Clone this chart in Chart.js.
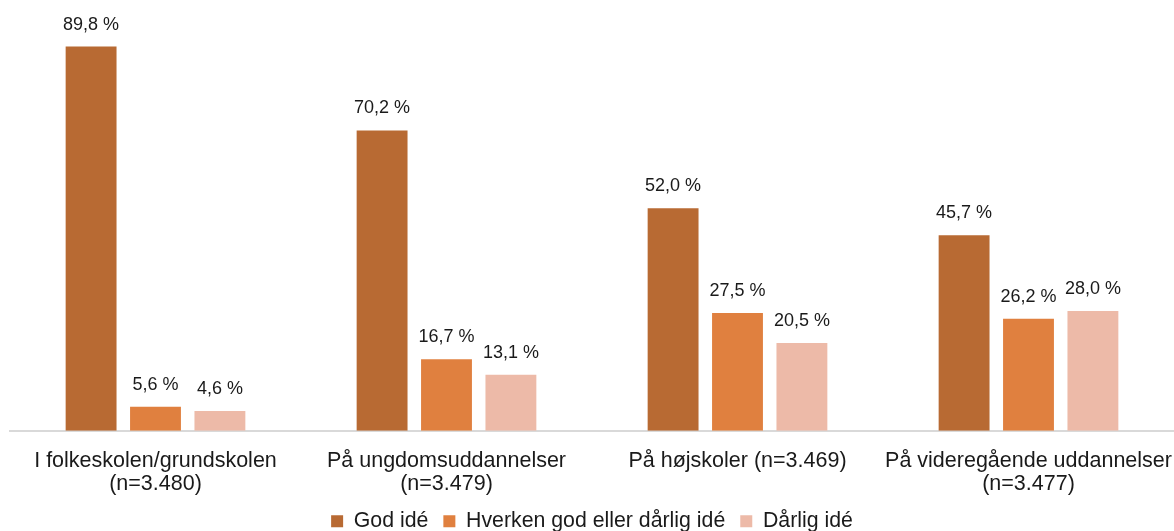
<!DOCTYPE html>
<html>
<head>
<meta charset="utf-8">
<script src="https://cdn.jsdelivr.net/npm/chart.js@4"></script>
<style>
  html, body { margin: 0; padding: 0; background: #fff; }
  #wrap { width: 1174px; height: 531px; }
</style>
</head>
<body>
<div id="wrap"><canvas id="chart"></canvas></div>
<script>
// Kategorier og værdier (procent)
const kategorier = [
    ['I folkeskolen/grundskolen', '(n=3.480)'],
    ['På ungdomsuddannelser', '(n=3.479)'],
    'På højskoler (n=3.469)',
    ['På videregående uddannelser', '(n=3.477)']
];
const serieNavne = ['God idé', 'Hverken god eller dårlig idé', 'Dårlig idé'];
const godIde = [89.8, 70.2, 52.0, 45.7];
const hverken = [5.6, 16.7, 27.5, 26.2];
const daarligIde = [4.6, 13.1, 20.5, 28.0];
const farver = ['#B86A33', '#E0803F', '#EDBAA8'];

const skrift = '"Liberation Sans", Arial, sans-serif';

// Skriver værdien over hver søjle
const vaerdiLabels = {
    id: 'vaerdiLabels',
    afterDatasetsDraw(chart) {
        const c = chart.ctx;
        c.save();
        c.font = '18px ' + skrift;
        c.fillStyle = '#1a1a1a';
        c.textAlign = 'center';
        c.textBaseline = 'middle';
        chart.data.datasets.forEach((ds, i) => {
            chart.getDatasetMeta(i).data.forEach((bar, j) => {
                const txt = ds.data[j].toFixed(1).replace('.', ',') + ' %';
                c.fillText(txt, bar.x, bar.y - 22);
            });
        });
        c.restore();
    }
};

new Chart(document.getElementById('chart'), {
    type: 'bar',
    data: {
        labels: kategorier,
        datasets: [
            { label: serieNavne[0], data: godIde, backgroundColor: farver[0] },
            { label: serieNavne[1], data: hverken, backgroundColor: farver[1] },
            { label: serieNavne[2], data: daarligIde, backgroundColor: farver[2] }
        ]
    },
    options: {
        responsive: true,
        maintainAspectRatio: false,
        animation: false,
        layout: { padding: { left: 10, right: 0, top: 3, bottom: -11 } },
        datasets: {
            bar: { categoryPercentage: 0.664, barPercentage: 0.79 }
        },
        scales: {
            x: {
                // tickLength bruges som afstand fra aksen til teksten
                grid: { display: false, drawTicks: true, tickLength: 19 },
                border: { color: '#d9d9d9', width: 2 },
                ticks: {
                    color: '#1a1a1a',
                    padding: 0,
                    maxRotation: 0,
                    autoSkip: false,
                    font: { family: skrift, size: 21.5, lineHeight: 1.07 }
                }
            },
            y: { display: false, min: 0, max: 100 }
        },
        plugins: {
            legend: {
                position: 'bottom',
                labels: {
                    boxWidth: 12,
                    boxHeight: 12,
                    padding: 15,
                    color: '#1a1a1a',
                    font: { family: skrift, size: 21.3 }
                }
            },
            tooltip: { enabled: false }
        }
    },
    plugins: [vaerdiLabels]
});
</script>
</body>
</html>
